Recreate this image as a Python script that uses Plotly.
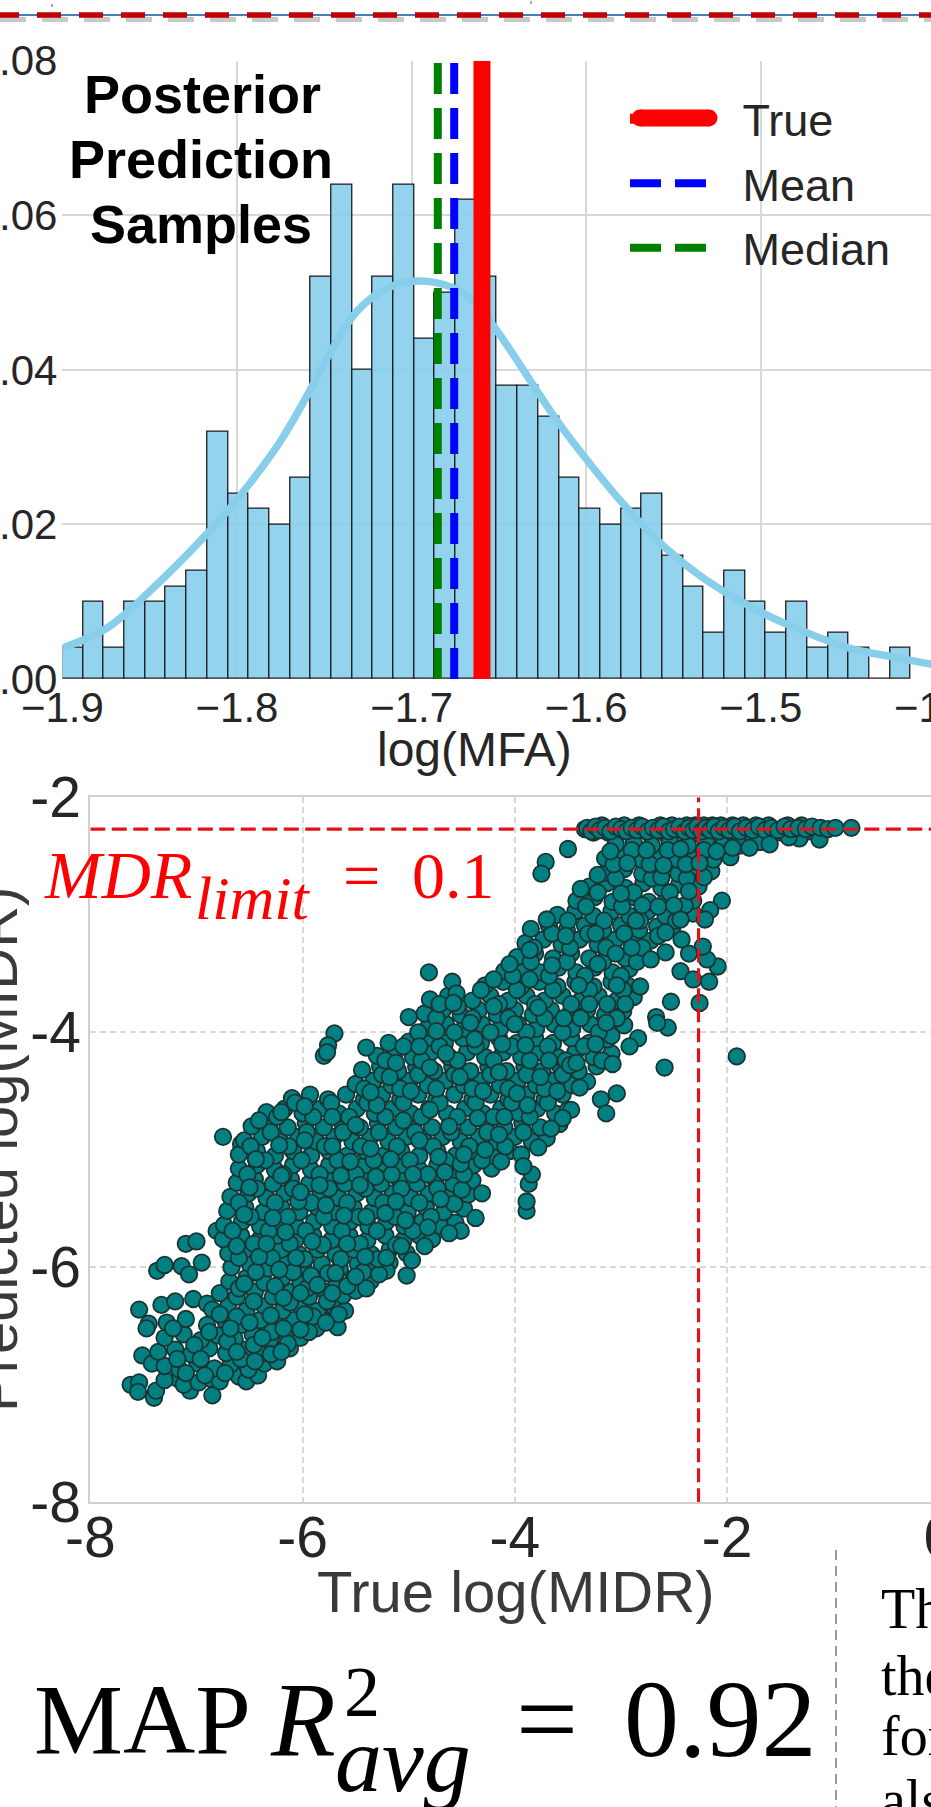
import plotly.graph_objects as go

W, H = 1000, 1807

# ---------- top histogram ----------
hist_start = -1.9
hist_bin_width = 0.01185
hist_density = [0.004, 0.010, 0.004, 0.010, 0.010, 0.012, 0.014, 0.032, 0.024, 0.022, 0.020, 0.026,
                0.052, 0.064, 0.040, 0.052, 0.064, 0.044, 0.050, 0.062, 0.052, 0.038, 0.038, 0.034,
                0.026, 0.022, 0.020, 0.022, 0.024, 0.016, 0.012, 0.006, 0.014, 0.010, 0.006, 0.010,
                0.004, 0.006, 0.004, 0.0, 0.004]
kde_x = [-1.9, -1.8745, -1.8507, -1.8167, -1.7997, -1.7759, -1.7605, -1.7452, -1.7316, -1.7146, -1.6976,
         -1.6772, -1.6636, -1.65, -1.6262, -1.616, -1.5956, -1.5786, -1.5548, -1.5344, -1.5071, -1.4833,
         -1.4493, -1.4255, -1.4]
kde_y = [0.004, 0.0066, 0.0112, 0.0189, 0.0233, 0.0305, 0.0364, 0.0428, 0.0475, 0.0505, 0.0515,
         0.0507, 0.0486, 0.0447, 0.0366, 0.0332, 0.0272, 0.0226, 0.017, 0.0133, 0.0095, 0.0069,
         0.004, 0.0029, 0.0018]
true_value = -1.6597
mean_value = -1.6756
median_value = -1.685
hist_xticks = [-1.9, -1.8, -1.7, -1.6, -1.5, -1.4]
hist_xlabels = ["\u22121.9", "\u22121.8", "\u22121.7", "\u22121.6", "\u22121.5", "\u22121.4"]
hist_yticks = [0.0, 0.02, 0.04, 0.06, 0.08]
hist_ylabels = ["0.00", "0.02", "0.04", "0.06", "0.08"]

# ---------- lower scatter: (true log MIDR, predicted log MIDR) ----------
mdr_limit_log = -2.27
scatter_ticks = [-8, -6, -4, -2, 0]
scatter_xlabels = ["-8", "-6", "-4", "-2", "0"]
scatter_yticks = [-8, -6, -4, -2]
scatter_ylabels = ["-8", "-6", "-4", "-2"]
cloud_back = [
 (-7.22,-6.52),(-7.02,-6.66),(-6.88,-6.55),(-6.71,-6.63),(-6.58,-6.78),(-6.46,-6.66),(-6.29,-6.55),(-6.14,-6.65),(-6.02,-6.53),(-5.90,-6.42),
 (-7.18,-6.78),(-7.10,-6.90),(-6.92,-6.92),(-6.73,-6.90),(-6.45,-6.80),(-6.30,-6.74),(-6.78,-6.40),(-6.62,-6.42),(-6.46,-6.29),(-6.30,-6.41),(-6.12,-6.30),(-5.96,-6.18),(-5.77,-6.29),(-5.66,-6.40),
 (-6.60,-6.18),(-6.44,-6.04),(-6.26,-6.16),(-6.09,-6.04),(-5.92,-6.07),(-5.76,-6.05),(-5.58,-6.16),(-5.43,-6.04),(-5.28,-6.06),(-5.40,-6.18),
 (-6.60,-5.92),(-6.46,-5.80),(-6.29,-5.92),(-6.12,-5.80),(-5.98,-5.93),(-5.81,-5.81),(-5.64,-5.93),(-5.46,-5.80),(-5.29,-5.93),(-5.12,-5.81),(-4.97,-5.94),(-4.85,-5.82),
 (-6.66,-5.69),(-6.49,-5.57),(-6.32,-5.69),(-6.14,-5.57),(-5.97,-5.69),(-5.80,-5.57),(-5.63,-5.69),(-5.47,-5.57),(-5.30,-5.69),(-5.13,-5.57),(-4.96,-5.69),(-4.79,-5.57),(-4.62,-5.71),(-4.57,-5.46),
 (-6.60,-5.45),(-6.43,-5.33),(-6.26,-5.45),(-6.09,-5.33),(-5.92,-5.45),(-5.75,-5.33),(-5.58,-5.45),(-5.41,-5.33),(-5.24,-5.45),(-5.07,-5.33),(-4.90,-5.45),(-4.73,-5.33),(-4.50,-5.34),
 (-6.52,-5.21),(-6.35,-5.09),(-6.18,-5.21),(-6.01,-5.09),(-5.84,-5.21),(-5.67,-5.09),(-5.50,-5.21),(-5.33,-5.09),(-5.16,-5.21),(-4.99,-5.09),(-4.82,-5.21),(-4.65,-5.09),(-4.48,-5.21),(-4.31,-5.09),(-4.13,-5.10),
 (-6.49,-4.97),(-6.30,-4.85),(-6.13,-4.97),(-5.96,-4.85),(-5.79,-4.97),(-5.62,-4.85),(-5.45,-4.97),(-5.28,-4.85),(-5.11,-4.97),(-4.94,-4.85),(-4.77,-4.97),(-4.60,-4.85),(-4.43,-4.97),(-4.26,-4.85),(-4.09,-4.97),(-3.92,-4.85),(-3.78,-4.98),
 (-6.24,-4.72),(-6.07,-4.60),(-5.90,-4.72),(-5.73,-4.60),(-5.56,-4.72),(-5.39,-4.60),(-5.22,-4.72),(-5.05,-4.60),(-4.88,-4.72),(-4.71,-4.60),(-4.54,-4.72),(-4.37,-4.60),(-4.20,-4.72),(-4.03,-4.60),(-3.86,-4.72),(-3.69,-4.60),(-3.55,-4.73),
 (-5.42,-4.48),(-5.25,-4.36),(-5.08,-4.48),(-4.91,-4.36),(-4.74,-4.48),(-4.57,-4.36),(-4.40,-4.48),(-4.23,-4.36),(-4.06,-4.48),(-3.89,-4.36),(-3.72,-4.48),(-3.55,-4.36),(-3.39,-4.47),
 (-5.22,-4.24),(-5.05,-4.12),(-4.88,-4.24),(-4.71,-4.12),(-4.54,-4.24),(-4.37,-4.12),(-4.20,-4.24),(-4.03,-4.12),(-3.86,-4.24),(-3.69,-4.12),(-3.52,-4.24),(-3.35,-4.12),(-3.18,-4.24),
 (-4.91,-4.00),(-4.74,-3.88),(-4.57,-4.00),(-4.40,-3.88),(-4.23,-4.00),(-4.06,-3.88),(-3.89,-4.00),(-3.72,-3.88),(-3.55,-4.00),(-3.38,-3.88),(-3.21,-4.00),(-3.04,-3.88),
 (-4.71,-3.76),(-4.54,-3.78),(-4.32,-3.64),(-4.15,-3.76),(-3.98,-3.64),(-3.81,-3.76),(-3.64,-3.64),(-3.47,-3.76),(-3.30,-3.64),(-3.13,-3.76),(-2.98,-3.64),
 (-4.02,-3.52),(-3.85,-3.40),(-3.68,-3.52),(-3.51,-3.40),(-3.34,-3.52),(-3.17,-3.40),(-3.00,-3.52),(-2.85,-3.40),
 (-3.82,-3.28),(-3.65,-3.16),(-3.48,-3.28),(-3.31,-3.16),(-3.14,-3.28),(-2.97,-3.16),(-2.80,-3.28),(-2.65,-3.18),
 (-3.50,-3.05),(-3.33,-2.93),(-3.16,-3.05),(-2.99,-2.93),(-2.82,-3.05),(-2.65,-2.93),(-2.48,-3.05),
 (-3.22,-2.81),(-3.05,-2.69),(-2.88,-2.81),(-2.71,-2.69),(-2.54,-2.81),(-2.38,-2.69),(-2.40,-2.92),
 (-3.07,-2.57),(-2.90,-2.45),(-2.73,-2.57),(-2.56,-2.45),(-2.39,-2.57),(-2.22,-2.45),(-2.22,-2.68),
]
cloud_front = [
 (-6.96,-6.78),(-6.62,-6.72),(-6.38,-6.60),(-6.18,-6.52),(-6.50,-6.47),(-6.68,-6.52),(-6.20,-6.72),(-5.98,-6.40),(-5.78,-6.47),
 (-6.55,-6.14),(-6.41,-5.91),(-6.18,-6.26),(-6.02,-6.22),(-5.86,-6.15),(-5.69,-6.05),(-5.50,-6.08),(-5.72,-6.22),(-6.22,-6.02),
 (-6.62,-5.82),(-6.34,-5.80),(-6.06,-5.92),(-5.91,-5.78),(-5.58,-5.80),(-5.41,-5.91),(-5.21,-5.92),(-5.07,-5.82),(-6.16,-5.70),
 (-6.55,-5.55),(-6.28,-5.58),(-6.04,-5.44),(-5.78,-5.47),(-5.61,-5.56),(-5.40,-5.57),(-5.22,-5.54),(-5.03,-5.60),(-4.82,-5.66),(-4.70,-5.42),
 (-6.50,-5.32),(-6.20,-5.22),(-6.02,-5.36),(-5.84,-5.30),(-5.64,-5.22),(-5.46,-5.30),(-5.31,-5.23),(-5.12,-5.44),(-4.96,-5.21),(-4.66,-5.19),(-4.51,-5.12),
 (-6.44,-5.08),(-6.22,-4.96),(-5.98,-4.92),(-5.72,-4.97),(-5.55,-5.10),(-5.36,-4.99),(-5.17,-5.08),(-4.90,-4.92),(-4.72,-5.06),(-4.48,-5.04),(-4.28,-5.00),(-4.15,-4.87),
 (-6.41,-4.75),(-6.20,-4.68),(-5.98,-4.63),(-5.72,-4.72),(-5.50,-4.79),(-5.30,-4.62),(-5.05,-4.75),(-4.80,-4.66),(-4.62,-4.80),(-4.35,-4.73),(-4.10,-4.72),(-3.88,-4.62),(-3.66,-4.82),
 (-5.36,-4.51),(-5.18,-4.38),(-4.98,-4.50),(-4.80,-4.30),(-4.52,-4.38),(-4.30,-4.50),(-4.15,-4.34),(-3.98,-4.52),(-3.76,-4.38),(-3.60,-4.50),(-3.48,-4.28),
 (-5.12,-4.26),(-4.90,-4.12),(-4.65,-4.18),(-4.38,-4.06),(-4.12,-4.10),(-3.90,-4.11),(-3.68,-4.24),(-3.42,-4.26),(-3.24,-4.10),(-3.08,-4.27),
 (-4.74,-3.99),(-4.58,-3.75),(-4.42,-3.92),(-4.20,-3.78),(-4.00,-3.93),(-3.78,-3.79),(-3.54,-3.88),(-3.30,-3.76),(-3.14,-3.92),(-2.96,-3.76),
 (-4.20,-3.55),(-4.05,-3.42),(-3.86,-3.55),(-3.65,-3.43),(-3.40,-3.60),(-3.22,-3.42),(-3.04,-3.60),(-2.90,-3.28),
 (-3.86,-3.30),(-3.70,-3.04),(-3.52,-3.18),(-3.24,-3.16),(-3.05,-3.33),(-2.86,-3.05),(-2.72,-3.38),(-2.58,-3.15),
 (-3.38,-2.78),(-3.22,-2.66),(-3.00,-2.82),(-2.80,-2.92),(-2.62,-2.68),(-2.50,-2.92),(-2.36,-2.80),(-2.44,-3.04),
 (-3.10,-2.46),(-2.94,-2.56),(-2.76,-2.45),(-2.60,-2.58),(-2.44,-2.44),(-2.26,-2.56),(-2.10,-2.46),(-1.95,-2.43),(-1.60,-2.40),
]
limit_extra = [
 (-3.34,-2.27),(-3.26,-2.30),(-3.18,-2.24),(-3.12,-2.30),(-3.03,-2.30),(-2.97,-2.24),(-2.88,-2.30),(-2.83,-2.24),(-2.73,-2.31),(-2.63,-2.24),(-2.58,-2.31),(-2.52,-2.24),
 (-2.43,-2.31),(-2.38,-2.24),(-2.34,-2.31),(-2.30,-2.24),(-2.26,-2.31),(-2.22,-2.24),(-2.18,-2.31),(-2.14,-2.24),(-2.10,-2.31),(-2.06,-2.24),(-2.00,-2.31),(-1.95,-2.24),
 (-1.90,-2.31),(-1.85,-2.24),(-1.79,-2.30),(-1.73,-2.24),(-1.67,-2.31),(-1.61,-2.24),(-1.55,-2.30),(-1.49,-2.30),(-1.43,-2.24),(-1.36,-2.29),(-1.30,-2.24),(-1.23,-2.29),
]
points = [
 (-6.75,-4.89),(-6.58,-4.95),(-7.37,-6.03),(-7.30,-5.98),(-7.14,-5.99),(-7.07,-6.06),(-7.10,-5.80),(-7.00,-5.78),(-6.81,-5.69),
 (-6.95,-5.96),(-7.54,-6.36),(-7.45,-6.48),(-7.47,-6.52),(-7.33,-6.32),(-7.20,-6.29),(-7.03,-6.27),(-6.90,-6.31),
 (-7.51,-6.75),(-7.42,-6.82),(-7.62,-7.00),(-7.54,-6.98),(-7.55,-7.06),(-7.40,-7.11),(-7.38,-7.05),(-6.85,-7.09),(-7.06,-7.05),(-7.17,-6.95),
 (-7.30,-6.96),(-7.12,-7.00),(-6.98,-6.98),(-6.86,-6.95),(-6.78,-6.97),(-6.60,-6.93),(-6.53,-6.97),(-6.42,-6.92),
 (-7.30,-6.84),(-7.16,-6.87),(-6.99,-6.82),(-6.83,-6.86),(-6.68,-6.83),(-6.51,-6.87),(-6.36,-6.82),(-6.24,-6.80),
 (-7.36,-6.72),(-7.20,-6.70),(-7.05,-6.74),(-6.88,-6.69),(-6.72,-6.73),(-6.55,-6.70),(-6.40,-6.74),(-6.25,-6.70),(-6.12,-6.69),
 (-7.30,-6.60),(-7.12,-6.57),(-6.96,-6.62),(-6.80,-6.58),(-6.64,-6.61),(-6.47,-6.57),(-6.31,-6.62),(-6.15,-6.58),(-6.02,-6.60),
 (-7.28,-6.47),(-7.10,-6.44),(-6.90,-6.49),(-6.73,-6.45),(-6.57,-6.49),(-6.40,-6.45),(-6.24,-6.49),(-6.08,-6.45),(-5.92,-6.48),(-5.82,-6.44),
 (-6.85,-6.36),(-6.70,-6.33),(-6.53,-6.37),(-6.36,-6.33),(-6.19,-6.37),(-6.02,-6.33),(-5.86,-6.37),(-5.70,-6.34),(-5.60,-6.37),
 (-6.78,-6.22),(-6.62,-6.25),(-6.45,-6.21),(-6.28,-6.25),(-6.11,-6.21),(-5.94,-6.25),(-5.78,-6.21),(-5.62,-6.24),(-5.50,-6.20),
 (-6.69,-6.12),(-6.53,-6.09),(-6.36,-6.13),(-6.19,-6.09),(-6.02,-6.13),(-5.85,-6.09),(-5.68,-6.13),(-5.52,-6.09),(-5.36,-6.12),
 (-6.67,-6.00),(-6.50,-5.97),(-6.33,-6.01),(-6.16,-5.97),(-5.99,-6.01),(-5.82,-5.97),(-5.65,-6.01),(-5.48,-5.97),(-5.32,-6.00),(-5.18,-5.96),
 (-6.70,-5.88),(-6.54,-5.85),(-6.37,-5.89),(-6.20,-5.85),(-6.03,-5.89),(-5.86,-5.85),(-5.69,-5.89),(-5.52,-5.85),(-5.35,-5.89),(-5.18,-5.85),(-5.02,-5.88),
 (-6.75,-5.76),(-6.58,-5.73),(-6.41,-5.77),(-6.24,-5.73),(-6.07,-5.77),(-5.90,-5.73),(-5.73,-5.77),(-5.56,-5.73),(-5.39,-5.77),(-5.22,-5.73),(-5.05,-5.77),(-4.90,-5.73),(-4.78,-5.76),
 (-6.74,-5.64),(-6.57,-5.61),(-6.40,-5.65),(-6.23,-5.61),(-6.06,-5.65),(-5.89,-5.61),(-5.72,-5.65),(-5.55,-5.61),(-5.38,-5.65),(-5.21,-5.61),(-5.04,-5.65),(-4.87,-5.61),(-4.70,-5.65),(-4.56,-5.62),
 (-6.71,-5.52),(-6.54,-5.49),(-6.37,-5.53),(-6.20,-5.49),(-6.03,-5.53),(-5.86,-5.49),(-5.69,-5.53),(-5.52,-5.49),(-5.35,-5.53),(-5.18,-5.49),(-5.01,-5.53),(-4.84,-5.49),(-4.67,-5.53),(-4.48,-5.50),
 (-6.68,-5.40),(-6.51,-5.37),(-6.34,-5.41),(-6.17,-5.37),(-6.00,-5.41),(-5.83,-5.37),(-5.66,-5.41),(-5.49,-5.37),(-5.32,-5.41),(-5.15,-5.37),(-4.98,-5.41),(-4.81,-5.37),(-4.64,-5.41),(-4.44,-5.38),
 (-6.62,-5.28),(-6.45,-5.25),(-6.28,-5.29),(-6.11,-5.25),(-5.94,-5.29),(-5.77,-5.25),(-5.60,-5.29),(-5.43,-5.25),(-5.26,-5.29),(-5.09,-5.25),(-4.92,-5.29),(-4.75,-5.25),(-4.58,-5.29),(-4.40,-5.26),
 (-6.60,-5.16),(-6.43,-5.13),(-6.26,-5.17),(-6.09,-5.13),(-5.92,-5.17),(-5.75,-5.13),(-5.58,-5.17),(-5.41,-5.13),(-5.24,-5.17),(-5.07,-5.13),(-4.90,-5.17),(-4.73,-5.13),(-4.56,-5.17),(-4.39,-5.13),(-4.22,-5.16),
 (-6.60,-5.04),(-6.43,-5.01),(-6.26,-5.05),(-6.09,-5.01),(-5.92,-5.05),(-5.75,-5.01),(-5.58,-5.05),(-5.41,-5.01),(-5.24,-5.05),(-5.07,-5.01),(-4.90,-5.05),(-4.73,-5.01),(-4.56,-5.05),(-4.39,-5.01),(-4.22,-5.05),(-4.05,-5.01),(-3.94,-5.04),
 (-6.55,-4.92),(-6.38,-4.89),(-6.21,-4.93),(-6.04,-4.89),(-5.87,-4.93),(-5.70,-4.89),(-5.53,-4.93),(-5.36,-4.89),(-5.19,-4.93),(-5.02,-4.89),(-4.85,-4.93),(-4.68,-4.89),(-4.51,-4.93),(-4.34,-4.89),(-4.17,-4.93),(-4.00,-4.89),(-3.84,-4.93),(-3.70,-4.90),
 (-6.48,-4.80),(-6.31,-4.77),(-6.14,-4.81),(-5.97,-4.77),(-5.80,-4.81),(-5.63,-4.77),(-5.46,-4.81),(-5.29,-4.77),(-5.12,-4.81),(-4.95,-4.77),(-4.78,-4.81),(-4.61,-4.77),(-4.44,-4.81),(-4.27,-4.77),(-4.10,-4.81),(-3.93,-4.77),(-3.76,-4.81),(-3.58,-4.78),
 (-6.34,-4.68),(-6.17,-4.65),(-6.00,-4.69),(-5.83,-4.65),(-5.66,-4.69),(-5.49,-4.65),(-5.32,-4.69),(-5.15,-4.65),(-4.98,-4.69),(-4.81,-4.65),(-4.64,-4.69),(-4.47,-4.65),(-4.30,-4.69),(-4.13,-4.65),(-3.96,-4.69),(-3.79,-4.65),(-3.62,-4.69),(-3.50,-4.66),
 (-6.10,-4.56),(-5.93,-4.53),(-5.76,-4.57),(-5.59,-4.53),(-5.42,-4.57),(-5.25,-4.53),(-5.08,-4.57),(-4.91,-4.53),(-4.74,-4.57),(-4.57,-4.53),(-4.40,-4.57),(-4.23,-4.53),(-4.06,-4.57),(-3.89,-4.53),(-3.72,-4.57),(-3.55,-4.53),
 (-5.50,-4.44),(-5.33,-4.41),(-5.16,-4.45),(-4.99,-4.41),(-4.82,-4.45),(-4.65,-4.41),(-4.48,-4.45),(-4.31,-4.41),(-4.14,-4.45),(-3.97,-4.41),(-3.80,-4.45),(-3.63,-4.41),(-3.46,-4.45),(-3.32,-4.42),
 (-5.44,-4.32),(-5.27,-4.29),(-5.10,-4.33),(-4.93,-4.29),(-4.76,-4.33),(-4.59,-4.29),(-4.42,-4.33),(-4.25,-4.29),(-4.08,-4.33),(-3.91,-4.29),(-3.74,-4.33),(-3.57,-4.29),(-3.40,-4.33),(-3.23,-4.29),
 (-5.30,-4.20),(-5.13,-4.17),(-4.96,-4.21),(-4.79,-4.17),(-4.62,-4.21),(-4.45,-4.17),(-4.28,-4.21),(-4.11,-4.17),(-3.94,-4.21),(-3.77,-4.17),(-3.60,-4.21),(-3.43,-4.17),(-3.26,-4.21),(-3.09,-4.18),
 (-5.00,-4.08),(-4.83,-4.05),(-4.66,-4.09),(-4.49,-4.05),(-4.32,-4.09),(-4.15,-4.05),(-3.98,-4.09),(-3.81,-4.05),(-3.64,-4.09),(-3.47,-4.05),(-3.30,-4.09),(-3.13,-4.06),
 (-4.82,-3.96),(-4.65,-3.93),(-4.48,-3.97),(-4.31,-3.93),(-4.14,-3.97),(-3.97,-3.93),(-3.80,-3.97),(-3.63,-3.93),(-3.46,-3.97),(-3.29,-3.93),(-3.12,-3.97),(-2.97,-3.94),
 (-4.85,-3.84),(-4.68,-3.81),(-4.51,-3.85),(-4.34,-3.81),(-4.17,-3.85),(-4.00,-3.81),(-3.83,-3.85),(-3.66,-3.81),(-3.49,-3.85),(-3.32,-3.81),(-3.15,-3.85),(-2.98,-3.82),
 (-4.80,-3.72),(-4.63,-3.69),(-4.40,-3.73),(-4.23,-3.69),(-4.06,-3.73),(-3.89,-3.69),(-3.72,-3.73),(-3.55,-3.69),(-3.38,-3.73),(-3.21,-3.69),(-3.04,-3.73),(-2.88,-3.70),
 (-4.28,-3.60),(-4.11,-3.57),(-3.94,-3.61),(-3.77,-3.57),(-3.60,-3.61),(-3.43,-3.57),(-3.26,-3.61),(-3.09,-3.57),(-2.94,-3.60),
 (-4.10,-3.48),(-3.93,-3.45),(-3.76,-3.49),(-3.59,-3.45),(-3.42,-3.49),(-3.25,-3.45),(-3.08,-3.49),(-2.92,-3.46),
 (-3.98,-3.36),(-3.81,-3.33),(-3.64,-3.37),(-3.47,-3.33),(-3.30,-3.37),(-3.13,-3.33),(-2.96,-3.37),(-2.78,-3.34),
 (-3.90,-3.24),(-3.73,-3.21),(-3.56,-3.25),(-3.39,-3.21),(-3.22,-3.25),(-3.05,-3.21),(-2.88,-3.25),(-2.72,-3.22),
 (-3.85,-3.12),(-3.68,-3.09),(-3.51,-3.13),(-3.34,-3.09),(-3.17,-3.13),(-3.00,-3.09),(-2.83,-3.13),(-2.66,-3.10),(-2.52,-3.12),
 (-3.60,-3.00),(-3.43,-2.97),(-3.26,-3.01),(-3.09,-2.97),(-2.92,-3.01),(-2.75,-2.97),(-2.58,-3.01),(-2.32,-2.99),
 (-3.42,-2.88),(-3.25,-2.85),(-3.08,-2.89),(-2.91,-2.85),(-2.74,-2.89),(-2.57,-2.85),(-2.32,-2.88),
 (-3.30,-2.76),(-3.13,-2.73),(-2.96,-2.77),(-2.79,-2.73),(-2.62,-2.77),(-2.45,-2.74),(-2.27,-2.76),
 (-3.14,-2.64),(-2.97,-2.61),(-2.80,-2.65),(-2.63,-2.61),(-2.46,-2.65),(-2.29,-2.61),(-2.15,-2.63),
 (-3.15,-2.52),(-2.98,-2.49),(-2.81,-2.53),(-2.64,-2.49),(-2.47,-2.53),(-2.30,-2.49),(-2.13,-2.53),(-1.97,-2.51),
 (-3.05,-2.40),(-2.88,-2.38),(-2.71,-2.41),(-2.54,-2.38),(-2.37,-2.41),(-2.20,-2.38),(-2.04,-2.41),(-1.88,-2.41),(-1.69,-2.38),(-1.79,-2.43),(-1.32,-2.35),(-1.13,-2.36),(-1.42,-2.34),
 # scattered points off the main cloud
 (-3.50,-2.44),(-3.71,-2.55),(-3.75,-2.65),(-2.05,-2.88),(-2.16,-2.96),(-2.21,-3.04),(-1.91,-4.205),(-2.59,-4.30),
 (-2.09,-3.44),(-2.19,-3.38),(-2.23,-3.27),(-2.44,-3.48),(-2.32,-3.55),(-2.17,-3.57),(-2.26,-3.75),(-2.53,-3.74),(-2.36,-3.33),(-2.43,-3.21),(-2.58,-3.32),
 (-2.82,-3.61),(-2.67,-3.87),(-2.56,-3.96),(-2.66,-3.92),(-4.81,-3.49),(-4.59,-3.57),(-4.55,-3.67),(-5.00,-3.87),(-5.70,-4.01),(-5.76,-4.11),(-5.80,-4.20),(-5.77,-4.17),(-5.40,-4.13),(-5.19,-4.09),
 (-3.04,-4.52),(-3.19,-4.57),(-3.14,-4.69),(-3.47,-4.66),(-2.84,-4.05),(-2.92,-4.12),(-3.09,-4.03),
 (-3.89,-5.52),(-3.89,-5.44),(-3.87,-5.29),(-3.84,-5.21),(-3.92,-5.14),(-4.31,-5.37),(-4.37,-5.58),(-4.51,-5.69),(-5.02,-6.07),(-5.21,-6.03),(-5.67,-6.51),(-5.87,-6.52),(-5.94,-6.55),
 # points along the upper limit
 (-3.32,-2.26),(-3.28,-2.29),(-3.24,-2.25),(-3.20,-2.28),(-3.15,-2.26),(-3.10,-2.29),(-3.05,-2.25),(-3.00,-2.27),(-2.95,-2.29),(-2.90,-2.26),(-2.85,-2.28),(-2.80,-2.25),
 (-2.75,-2.29),(-2.70,-2.26),(-2.65,-2.28),(-2.60,-2.25),(-2.55,-2.29),(-2.50,-2.27),(-2.45,-2.25),(-2.40,-2.29),(-2.36,-2.26),(-2.32,-2.28),(-2.28,-2.25),(-2.24,-2.29),
 (-2.20,-2.26),(-2.16,-2.28),(-2.12,-2.25),(-2.08,-2.29),(-2.03,-2.26),(-1.98,-2.28),(-1.93,-2.25),(-1.88,-2.29),(-1.82,-2.26),(-1.76,-2.28),(-1.70,-2.25),(-1.64,-2.28),
 (-1.58,-2.26),(-1.52,-2.28),(-1.46,-2.25),(-1.40,-2.27),(-1.33,-2.26),(-1.26,-2.27),(-1.20,-2.25),(-1.12,-2.26),(-1.05,-2.27),(-0.98,-2.26),(-0.83,-2.26),
]
all_points = limit_extra + points + cloud_back + cloud_front
true_log_midr = [p[0] for p in all_points]
pred_log_midr = [p[1] for p in all_points]

FONT = "Liberation Sans"
SERIF = "Liberation Serif"
TXT = "#262626"
GRID = "#d8d8d8"


def px(x):
    return x / W


def py(y):
    return 1 - y / H


fig = go.Figure()
hist_centers = [hist_start + (i + 0.5) * hist_bin_width for i in range(len(hist_density))]
fig.add_trace(go.Bar(x=hist_centers, y=hist_density, width=hist_bin_width, showlegend=False,
                     marker=dict(color="rgba(135,206,235,0.9)", line=dict(color="#1c1c1c", width=1.3)),
                     xaxis="x", yaxis="y"))
fig.add_trace(go.Scatter(x=kde_x, y=kde_y, mode="lines", showlegend=False, xaxis="x", yaxis="y",
                         line=dict(color="#87CEEB", width=7.5, shape="spline", smoothing=1.0)))
fig.add_trace(go.Scatter(x=[true_value, true_value], y=[0, 0.08], mode="lines", name="\u2002True", legendgroup="a", xaxis="x", yaxis="y",
                         line=dict(color="#ff0000", width=17)))
fig.add_trace(go.Scatter(x=[mean_value, mean_value], y=[0, 0.08], mode="lines", name="\u2002Mean", legendgroup="b", xaxis="x", yaxis="y",
                         line=dict(color="#0000ff", width=8, dash="31px,14px")))
fig.add_trace(go.Scatter(x=[median_value, median_value], y=[0, 0.08], mode="lines", name="\u2002Median", legendgroup="c", xaxis="x", yaxis="y",
                         line=dict(color="#008000", width=8, dash="31px,14px")))

fig.add_trace(go.Scatter(x=true_log_midr, y=pred_log_midr, mode="markers", showlegend=False, xaxis="x2", yaxis="y2",
                         marker=dict(color="#008080", size=16.5, line=dict(color="#1c3333", width=1.8))))
fig.add_trace(go.Scatter(x=[-8, 0], y=[mdr_limit_log, mdr_limit_log], mode="lines", showlegend=False, xaxis="x2", yaxis="y2",
                         line=dict(color="#e5101c", width=3.2, dash="15px,6.5px")))
fig.add_trace(go.Scatter(x=[mdr_limit_log, mdr_limit_log], y=[-8, -2], mode="lines", showlegend=False, xaxis="x2", yaxis="y2",
                         line=dict(color="#e5101c", width=3.2, dash="14px,6px")))

shapes = [
    dict(type="line", xref="paper", yref="paper", x0=0, x1=1, y0=py(19.5), y1=py(19.5),
         line=dict(color="rgba(60,60,60,0.28)", width=5, dash="26px,16px")),
    dict(type="line", xref="paper", yref="paper", x0=0, x1=1, y0=py(15), y1=py(15),
         line=dict(color="#4a7ebb", width=2)),
    dict(type="line", xref="paper", yref="paper", x0=px(-5), x1=1, y0=py(15), y1=py(15),
         line=dict(color="#c00000", width=5.5, dash="24px,18px")),
    dict(type="line", xref="paper", yref="paper", x0=px(52), x1=px(52), y0=py(4), y1=py(7),
         line=dict(color="#555555", width=1)),
    dict(type="line", xref="paper", yref="paper", x0=px(531), x1=px(531), y0=py(1), y1=py(4),
         line=dict(color="#555555", width=1)),
    dict(type="line", xref="paper", yref="paper", x0=px(836), x1=px(836), y0=py(1550), y1=py(1807),
         line=dict(color="#555555", width=1.2, dash="10px,6px")),
    # rounded, thick legend sample for "True"
    dict(type="rect", xref="paper", yref="paper", x0=px(640), x1=px(709), y0=py(126.5), y1=py(109.5),
         fillcolor="#ff0000", line=dict(width=0)),
    dict(type="circle", xref="paper", yref="paper", x0=px(631.5), x1=px(648.5), y0=py(126.5), y1=py(109.5),
         fillcolor="#ff0000", line=dict(width=0)),
    dict(type="circle", xref="paper", yref="paper", x0=px(700.5), x1=px(717.5), y0=py(126.5), y1=py(109.5),
         fillcolor="#ff0000", line=dict(width=0)),
]


def note(text, x, y, size, color="#000000", family=FONT, anchor="left", bold=False, italic=False, angle=0):
    return dict(text=f"<b>{text}</b>" if bold else text, xref="paper", yref="paper", x=px(x), y=py(y),
                xanchor=anchor, yanchor="middle", showarrow=False, textangle=angle,
                font=dict(size=size, color=color, family=family, style="italic" if italic else "normal"))


annotations = [
    note("Posterior", 202, 94, 54, anchor="center", bold=True),
    note("Prediction", 201, 159, 54, anchor="center", bold=True),
    note("Samples", 201, 224, 54, anchor="center", bold=True),
    note("log(MFA)", 474, 749, 48, color=TXT, anchor="center"),
    note("True log(MIDR)", 515, 1591, 58, color="#3a3a3a", anchor="center"),
    note("Predicted log(MIDR)", -4, 1150, 58, color="#3a3a3a", anchor="center", angle=-90),
    note("MDR", 42, 875, 68, color="#ff0000", family=SERIF, italic=True),
    note("limit", 193, 898, 62, color="#ff0000", family=SERIF, italic=True),
    note("=", 341, 875, 66, color="#ff0000", family=SERIF),
    note("0.1", 410, 875, 66, color="#ff0000", family=SERIF),
    note("MAP", 32, 1719, 100, family=SERIF),
    note("R", 268, 1719, 106, family=SERIF, italic=True),
    note("2", 342, 1692, 72, family=SERIF),
    note("avg", 333, 1759, 94, family=SERIF, italic=True),
    note("=", 514, 1719, 110, family=SERIF),
    note("0.92", 622, 1719, 110, family=SERIF),
    note("The", 879, 1609, 56, family=SERIF),
    note("the", 879, 1676, 56, family=SERIF),
    note("for", 879, 1736, 56, family=SERIF),
    note("also", 879, 1800, 56, family=SERIF),
]

axis_common = dict(tickmode="array", ticks="", zeroline=False, showgrid=True, gridcolor=GRID, automargin=False)
fig.update_layout(
    template="none",
    width=W, height=H, margin=dict(l=0, r=0, t=0, b=0, autoexpand=False), paper_bgcolor="white", plot_bgcolor="white",
    bargap=0, shapes=shapes, annotations=annotations,
    font=dict(family=FONT, color=TXT),
    legend=dict(x=px(625), y=py(83), xanchor="left", yanchor="top", bgcolor="rgba(0,0,0,0)",
                font=dict(size=45, color=TXT, family=FONT), itemwidth=85, tracegroupgap=3),
    xaxis=dict(domain=[px(62.4), px(935.4)], range=[-1.9, -1.4], tickvals=hist_xticks, ticktext=hist_xlabels,
               tickfont=dict(size=42, color=TXT), gridwidth=2, showline=False, anchor="y", ticklabelstandoff=0, **axis_common),
    yaxis=dict(domain=[py(679), py(60.7)], range=[0, 0.08], tickvals=hist_yticks, ticktext=hist_ylabels,
               tickfont=dict(size=42, color=TXT), gridwidth=2, showline=False, anchor="x", ticklabelstandoff=4, **axis_common),
    xaxis2=dict(domain=[px(90.3), px(939.5)], range=[-8, 0], tickvals=scatter_ticks, ticktext=scatter_xlabels,
                tickfont=dict(size=57, color=TXT), gridwidth=1.5, griddash="6px,4px", ticklabelstandoff=-16,
                showline=True, linecolor="#d0d0d0", linewidth=2, mirror=True, anchor="y2", **axis_common),
    yaxis2=dict(domain=[py(1502.3), py(797.3)], range=[-8, -2], tickvals=scatter_yticks, ticktext=scatter_ylabels,
                tickfont=dict(size=57, color=TXT), gridwidth=1.5, griddash="6px,4px", ticklabelstandoff=-4,
                showline=True, linecolor="#d0d0d0", linewidth=2, mirror=True, anchor="x2", **axis_common),
)

fig.write_html("out.html", config={"displayModeBar": False},
               post_script="document.body.style.margin='0';document.body.style.overflow='hidden';document.documentElement.style.overflow='hidden';")
